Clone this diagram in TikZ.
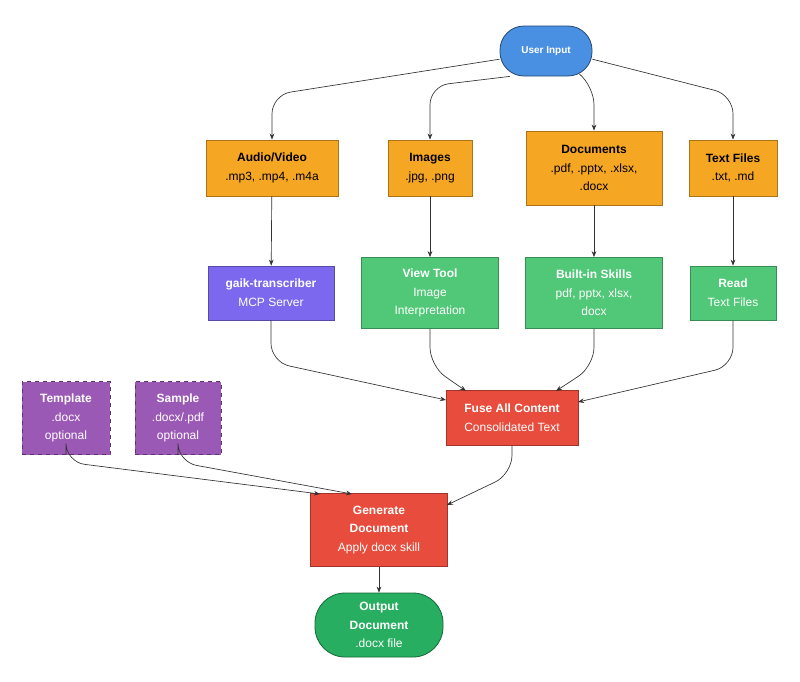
\documentclass[tikz,border=0pt]{standalone}
\usepackage{fontspec}
\setmainfont{Liberation Sans}
\usetikzlibrary{arrows.meta,calc}
\definecolor{cblue}{HTML}{4A90E2}
\definecolor{corange}{HTML}{F5A623}
\definecolor{cpurple}{HTML}{7B68EE}
\definecolor{cgreen}{HTML}{50C878}
\definecolor{cviolet}{HTML}{9B59B6}
\definecolor{cred}{HTML}{E74C3C}
\definecolor{cdgreen}{HTML}{27AE60}
\begin{document}
\begin{tikzpicture}[x=0.75pt,y=-0.75pt,
  base/.style={draw, line width=0.6pt, align=center, font=\fontsize{9}{14}\selectfont, inner sep=2pt},
  sz/.style 2 args={minimum width=#1*0.75pt, minimum height=#2*0.75pt},
  inp/.style={base, fill=corange, draw=corange!70!black, text=black},
  purp/.style={base, fill=cpurple, draw=cpurple!70!black, text=white},
  grn/.style={base, fill=cgreen, draw=cgreen!70!black, text=white},
  tpl/.style={base, fill=cviolet, draw=cviolet!60!black, dashed, text=white},
  red/.style={base, fill=cred, draw=cred!70!black, text=white},
  edge/.style={draw=black!80, line width=0.5pt, -{Stealth[length=4.5pt,width=3.5pt]}, rounded corners=14pt}]
\useasboundingbox (0,0) rectangle (800,682);
\node[base, fill=cblue, draw=cblue!50!black, text=white, rounded corners=24*0.75pt, sz={92}{50}, font=\fontsize{7.5}{9}\selectfont\bfseries] (user) at (546,51) {User Input};
\node[inp, sz={132}{56}] (av) at (272,168) {\textbf{Audio/Video}\\.mp3, .mp4, .m4a};
\node[inp, sz={84}{56}] (img) at (430,168) {\textbf{Images}\\.jpg, .png};
\node[inp, sz={136}{74}] (doc) at (594,168) {\textbf{Documents}\\.pdf, .pptx, .xlsx,\\.docx};
\node[inp, sz={88}{56}] (txt) at (733,168) {\textbf{Text Files}\\.txt, .md};
\node[purp, sz={126}{54}] (gaik) at (271,293) {\textbf{gaik-transcriber}\\MCP Server};
\node[grn, sz={137}{71}] (view) at (430,293) {\textbf{View Tool}\\Image\\Interpretation};
\node[grn, sz={137}{71}] (skill) at (594,293) {\textbf{Built-in Skills}\\pdf, pptx, xlsx,\\docx};
\node[grn, sz={86}{54}] (read) at (733,293) {\textbf{Read}\\Text Files};
\node[tpl, sz={88}{73}] (tmp) at (66,418) {\textbf{Template}\\.docx\\optional};
\node[tpl, sz={86}{73}] (smp) at (178,418) {\textbf{Sample}\\.docx/.pdf\\optional};
\node[red, sz={132}{55}] (fuse) at (512,418) {\textbf{Fuse All Content}\\Consolidated Text};
\node[red, sz={137}{73}] (gen) at (379,530) {\textbf{Generate}\\\textbf{Document}\\Apply docx skill};
\node[base, fill=cdgreen, draw=cdgreen!60!black, text=white, rounded corners=30*0.75pt, sz={128}{64}] (out) at (379,625) {\textbf{Output}\\\textbf{Document}\\.docx file};
% top edges
\draw[edge] (user.190) -- (272,95) -- (av.north);
\draw[edge] (user.215) -- (430,86) -- (img.north);
\draw[edge] (user.-35) -- (594,86) -- (doc.north);
\draw[edge] (user.-10) -- (733,95) -- (txt.north);
\draw[edge] (av) -- (gaik);
\draw[edge] (img) -- (view);
\draw[edge] (doc) -- (skill);
\draw[edge] (txt) -- (read);
% to fuse
\draw[edge] (gaik.south) -- (271,362) -- (446,400);
\draw[edge] (view.south) -- (430,366) -- (466,391);
\draw[edge] (skill.south) -- (594,366) -- (556,391);
\draw[edge] (read.south) -- (733,366) -- (578,402);
% to generate
\draw[edge] (tmp.south) -- (66,462) -- (320,494);
\draw[edge] (smp.south) -- (178,462) -- (352,494);
\draw[edge] (fuse.south) -- (512,474) -- (447,505);
\draw[edge] (gen) -- (out);
\end{tikzpicture}
\end{document}
